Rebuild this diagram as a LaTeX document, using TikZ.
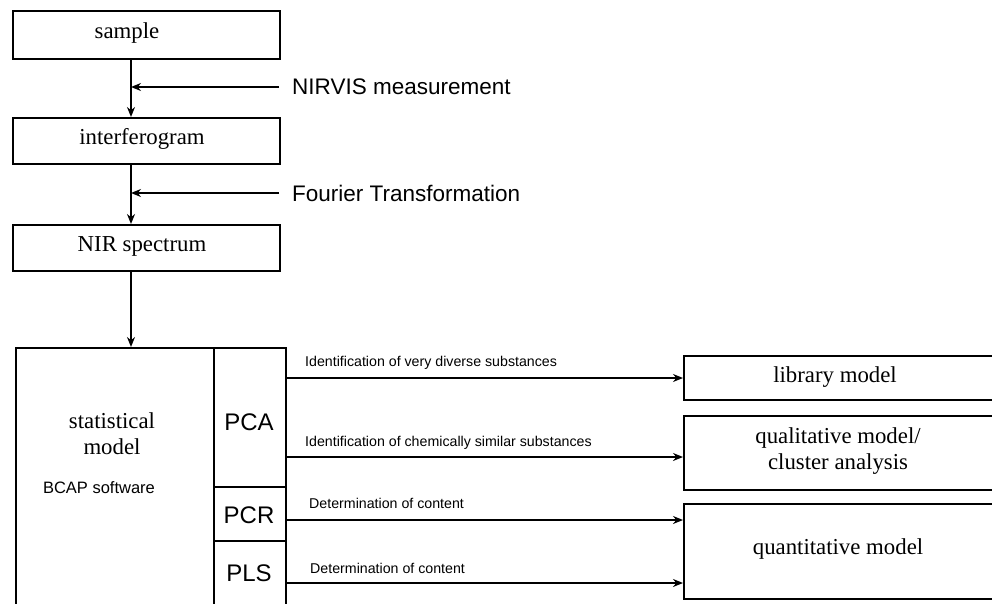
\documentclass[tikz,border=0pt]{standalone}
\usepackage{fontspec}
\setmainfont{Liberation Serif}
\setsansfont{Liberation Sans}
\usetikzlibrary{arrows.meta}
\begin{document}
\begin{tikzpicture}[x=1pt,y=-1pt,
  box/.style={draw,line width=2.3pt,inner sep=0pt,anchor=north west},
  serif/.style={font=\fontsize{22.8}{26}\selectfont},
  lbl/.style={font=\sffamily\fontsize{22.5}{26}\selectfont,inner sep=0pt,anchor=west},
  small/.style={font=\sffamily\fontsize{14.2}{16}\selectfont,inner sep=0pt,anchor=west},
  arr/.style={line width=2.2pt,-{Stealth[length=10pt,width=8pt]}},
  ln/.style={line width=2.2pt}]
\clip (0,0) rectangle (992,604);
% left column boxes
\node[box,minimum width=267pt,minimum height=48pt] (sample) at (12,10) {};
\node[serif] at (127,33) {sample};
\node[box,minimum width=267pt,minimum height=46pt] (interf) at (12,117) {};
\node[serif] at (142,139) {interferogram};
\node[box,minimum width=267pt,minimum height=46pt] (nir) at (12,224) {};
\node[serif] at (142,246) {NIR spectrum};
% statistical model
\node[box,minimum width=198pt,minimum height=265pt] (stat) at (15,347) {};
\node[serif,align=center] at (112,434) {statistical\\model};
\node[font=\sffamily\fontsize{16.5}{19}\selectfont,inner sep=0pt] at (99,488) {BCAP software};
\node[box,minimum width=72pt,minimum height=139pt] (pca) at (213,347) {};
\node[font=\sffamily\fontsize{24}{28}\selectfont] at (249,422) {PCA};
\node[box,minimum width=72pt,minimum height=54pt] (pcr) at (213,486) {};
\node[font=\sffamily\fontsize{24}{28}\selectfont] at (249,515) {PCR};
\node[box,minimum width=72pt,minimum height=70pt] (pls) at (213,540) {};
\node[font=\sffamily\fontsize{24}{28}\selectfont] at (249,573) {PLS};
% right boxes
\node[box,minimum width=320pt,minimum height=44pt] (lib) at (683,355) {};
\node[serif] at (835,377) {library model};
\node[box,minimum width=320pt,minimum height=74pt] (qual) at (683,415) {};
\node[serif,align=center] at (838,451) {qualitative model/\\cluster analysis};
\node[box,minimum width=320pt,minimum height=95pt] (quant) at (683,503) {};
\node[serif] at (838,549) {quantitative model};
% vertical flow
\coordinate (v) at (131,0);
\draw[arr] (sample.south -| v) -- (interf.north -| v);
\draw[arr] (interf.south -| v) -- (nir.north -| v);
\draw[arr] (nir.south -| v) -- (stat.north -| v);
% side inputs
\node[lbl] (nirvis) at (292,87) {NIRVIS measurement};
\coordinate (m1) at (279,87);
\draw[arr] (m1) -- (m1 -| v);
\node[lbl] (fourier) at (292,193) {Fourier Transformation};
\coordinate (m2) at (279,193);
\draw[arr] (m2) -- (m2 -| v);
% output arrows
\coordinate (a1) at (285,378);
\coordinate (a2) at (285,457);
\coordinate (a3) at (285,520);
\coordinate (a4) at (285,583);
\draw[arr] (a1) -- (a1 -| lib.west);
\draw[arr] (a2) -- (a2 -| qual.west);
\draw[arr] (a3) -- (a3 -| quant.west);
\draw[arr] (a4) -- (a4 -| quant.west);
\node[small] (t1) at (305,363) {Identification of very diverse substances};
\node[small] (t2) at (305,443) {Identification of chemically similar substances};
\node[small] (t3) at (309,503) {Determination of content};
\node[small] (t4) at (310,568) {Determination of content};
\end{tikzpicture}
\end{document}
